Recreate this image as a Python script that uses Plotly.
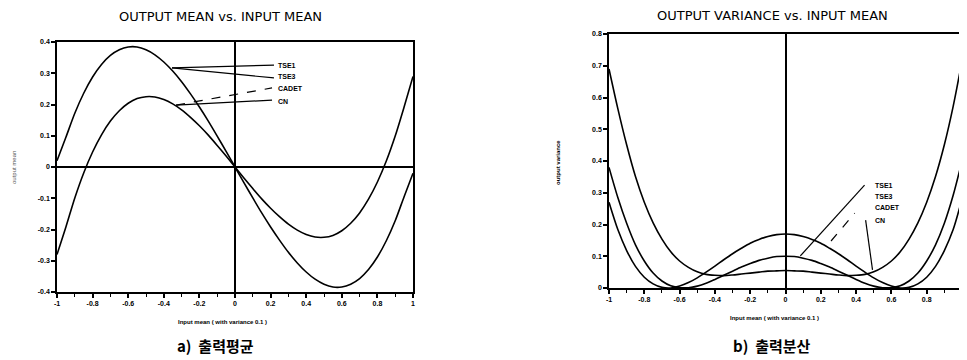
import plotly.graph_objects as go

# ---------------- data ----------------
x_in = [-1.0, -0.95, -0.9, -0.85, -0.8, -0.75, -0.7, -0.65, -0.6, -0.55, -0.5,
        -0.45, -0.4, -0.35, -0.3, -0.25, -0.2, -0.15, -0.1, -0.05, 0.0,
        0.05, 0.1, 0.15, 0.2, 0.25, 0.3, 0.35, 0.4, 0.45, 0.5,
        0.55, 0.6, 0.65, 0.7, 0.75, 0.8, 0.85, 0.9, 0.95, 1.0]

# a) output mean
mean_tse1_tse3 = [0.02, 0.095, 0.172, 0.236, 0.288, 0.328, 0.357, 0.375, 0.384, 0.384, 0.375,
                  0.359, 0.336, 0.307, 0.273, 0.234, 0.192, 0.147, 0.099, 0.050, 0.0,
                  -0.050, -0.099, -0.147, -0.192, -0.234, -0.273, -0.307, -0.336, -0.359, -0.375,
                  -0.384, -0.384, -0.375, -0.357, -0.328, -0.288, -0.236, -0.172, -0.095, -0.02]
mean_cadet_cn = [-0.28, -0.192, -0.099, -0.019, 0.048, 0.103, 0.147, 0.180, 0.204, 0.219, 0.225,
                 0.224, 0.216, 0.202, 0.183, 0.159, 0.132, 0.102, 0.069, 0.035, 0.0,
                 -0.035, -0.069, -0.102, -0.132, -0.159, -0.183, -0.202, -0.216, -0.224, -0.225,
                 -0.219, -0.204, -0.180, -0.147, -0.103, -0.048, 0.019, 0.099, 0.192, 0.29]

# b) output variance
var_cn = [0.69, 0.565, 0.451, 0.351, 0.270, 0.205, 0.154, 0.114, 0.085, 0.065, 0.051,
          0.043, 0.040, 0.039, 0.041, 0.044, 0.047, 0.050, 0.053, 0.054, 0.055,
          0.054, 0.053, 0.050, 0.047, 0.044, 0.041, 0.039, 0.040, 0.043, 0.051,
          0.065, 0.085, 0.114, 0.154, 0.205, 0.270, 0.351, 0.451, 0.572, 0.715]
var_tse1 = [0.38, 0.285, 0.204, 0.136, 0.085, 0.047, 0.022, 0.007, 0.001, 0.001, 0.006,
            0.015, 0.027, 0.040, 0.053, 0.066, 0.077, 0.087, 0.094, 0.099, 0.100,
            0.099, 0.094, 0.087, 0.077, 0.066, 0.053, 0.040, 0.027, 0.015, 0.006,
            0.001, 0.001, 0.007, 0.022, 0.047, 0.085, 0.136, 0.204, 0.292, 0.40]
var_cadet = [0.27, 0.184, 0.118, 0.068, 0.034, 0.013, 0.002, 0.000, 0.006, 0.017, 0.032,
             0.050, 0.069, 0.089, 0.108, 0.125, 0.141, 0.153, 0.162, 0.168, 0.170,
             0.168, 0.162, 0.153, 0.141, 0.125, 0.108, 0.089, 0.069, 0.050, 0.032,
             0.017, 0.006, 0.000, 0.002, 0.013, 0.034, 0.068, 0.118, 0.184, 0.28]

x_ticks = [-1, -0.8, -0.6, -0.4, -0.2, 0, 0.2, 0.4, 0.6, 0.8, 1]
x_ticktext = ["-1", "-0.8", "-0.6", "-0.4", "-0.2", "0", "0.2", "0.4", "0.6", "0.8", "1"]
mean_ticks = [-0.4, -0.3, -0.2, -0.1, 0, 0.1, 0.2, 0.3, 0.4]
mean_ticktext = ["-0.4", "-0.3", "-0.2", "-0.1", "0", "0.1", "0.2", "0.3", "0.4"]
var_ticks = [0, 0.1, 0.2, 0.3, 0.4, 0.5, 0.6, 0.7, 0.8]
var_ticktext = ["0", "0.1", "0.2", "0.3", "0.4", "0.5", "0.6", "0.7", "0.8"]
method_labels = ["TSE1", "TSE3", "CADET", "CN"]

# ---------------- geometry (page pixels -> figure fractions) ----------------
# the page body keeps its default 8px margin, so the figure starts at (8, 8)
OFF = 8
PW, PH = 967, 360
FW, FH = PW - OFF, PH - OFF
fx = lambda px: (px - OFF) / FW
fy = lambda py: 1 - (py - OFF) / FH

LW = 1.6
line = dict(color="black", width=LW, shape="spline", smoothing=0.8)

fig = go.Figure()
fig.add_trace(go.Scatter(x=x_in, y=mean_tse1_tse3, mode="lines", line=line, xaxis="x", yaxis="y"))
fig.add_trace(go.Scatter(x=x_in, y=mean_cadet_cn, mode="lines", line=line, xaxis="x", yaxis="y"))
fig.add_trace(go.Scatter(x=x_in, y=var_cn, mode="lines", line=line, xaxis="x2", yaxis="y2"))
fig.add_trace(go.Scatter(x=x_in, y=var_tse1, mode="lines", line=line, xaxis="x2", yaxis="y2"))
fig.add_trace(go.Scatter(x=x_in, y=var_cadet, mode="lines", line=line, xaxis="x2", yaxis="y2"))

tickfont = dict(family="Liberation Sans", size=7, color="black")
bold = lambda arr: ["<b>%s</b>" % t for t in arr]

def xaxis_cfg(domain, anchor):
    return dict(domain=domain, anchor=anchor, range=[-1, 1], automargin=False,
                showline=True, mirror=True,
                linecolor="black", linewidth=LW, showgrid=False, zeroline=True,
                zerolinecolor="black", zerolinewidth=LW, ticks="outside", ticklen=4,
                tickwidth=LW, tickcolor="black", tickvals=x_ticks, ticktext=bold(x_ticktext),
                tickfont=tickfont,
                minor=dict(dtick=0.1, tick0=0, ticks="outside", ticklen=3, tickwidth=1.2,
                           tickcolor="black", showgrid=False))

def yaxis_cfg(domain, anchor, rng, vals, text):
    return dict(domain=domain, anchor=anchor, range=rng, automargin=False,
                showline=True, mirror=True,
                linecolor="black", linewidth=LW, showgrid=False, zeroline=True,
                zerolinecolor="black", zerolinewidth=LW, ticks="outside", ticklen=4,
                tickwidth=LW, tickcolor="black", tickvals=vals, ticktext=bold(text),
                tickfont=tickfont)

fig.update_layout(
    width=FW, height=FH, margin=dict(l=0, r=0, t=0, b=0),
    paper_bgcolor="white", plot_bgcolor="white", showlegend=False,
    xaxis=xaxis_cfg([fx(57), fx(413)], "y"),
    yaxis=yaxis_cfg([fy(292), fy(42)], "x", [-0.4, 0.4], mean_ticks, mean_ticktext),
    xaxis2=xaxis_cfg([fx(609), fx(962)], "y2"),
    yaxis2=yaxis_cfg([fy(288), fy(34)], "x2", [0, 0.8], var_ticks, var_ticktext),
)

ann = []
def ptext(text, px, py, font, **kw):
    d = dict(text=text, x=fx(px), y=fy(py), xref="paper", yref="paper", showarrow=False,
             font=font, xanchor="center", yanchor="middle")
    d.update(kw)
    ann.append(d)

title_font = dict(family="DejaVu Sans", size=13, color="black")
ptext("OUTPUT MEAN vs. INPUT MEAN", 220, 17, title_font)
ptext("OUTPUT VARIANCE vs. INPUT MEAN", 772, 15, title_font)
xt_font = dict(family="Liberation Sans", size=6, color="black")
ptext("<b>Input mean ( with variance 0.1 )</b>", 222, 322, xt_font)
ptext("<b>Input mean ( with variance 0.1 )</b>", 774, 318, xt_font)
ptext("<b>output variance</b>", 558, 163, xt_font, textangle=-90)
ptext("output mean", 14, 168, dict(family="Liberation Sans", size=6, color="#555"), textangle=-90)
cap_font = dict(family="Noto Sans CJK KR", size=15, color="black")
ptext("<b>a)  출력평균</b>", 215, 345, cap_font)
ptext("<b>b)  출력분산</b>", 772, 345, cap_font)

lab_font = dict(family="Liberation Sans", size=7, color="black")
# left plot method labels
for name, yy in zip(method_labels, [0.326, 0.288, 0.25, 0.208]):
    ann.append(dict(text="<b>%s</b>" % name, x=0.23, y=yy, xref="x", yref="y", showarrow=False,
                    font=lab_font, xanchor="left", yanchor="middle"))
# right plot method labels
for name, yy in zip(method_labels, [0.324, 0.287, 0.252, 0.214]):
    ann.append(dict(text="<b>%s</b>" % name, x=0.495, y=yy, xref="x2", yref="y2", showarrow=False,
                    font=lab_font, xanchor="left", yanchor="middle"))
fig.update_layout(annotations=ann)

shapes = []
def seg(x0, y0, x1, y1, xr, yr, dash="solid"):
    shapes.append(dict(type="line", x0=x0, y0=y0, x1=x1, y1=y1, xref=xr, yref=yr,
                       line=dict(color="black", width=1.2, dash=dash)))
# leader lines (left)
seg(-0.354, 0.317, 0.219, 0.326, "x", "y")
seg(-0.354, 0.317, 0.219, 0.285, "x", "y")
seg(-0.331, 0.198, 0.208, 0.253, "x", "y", "dash")
seg(-0.331, 0.198, 0.208, 0.214, "x", "y")
# leader lines (right)
seg(0.084, 0.101, 0.448, 0.324, "x2", "y2")
seg(0.258, 0.148, 0.392, 0.236, "x2", "y2", "dash")
seg(0.493, 0.057, 0.454, 0.214, "x2", "y2")
fig.update_layout(shapes=shapes)

fig.write_html("out.html")
